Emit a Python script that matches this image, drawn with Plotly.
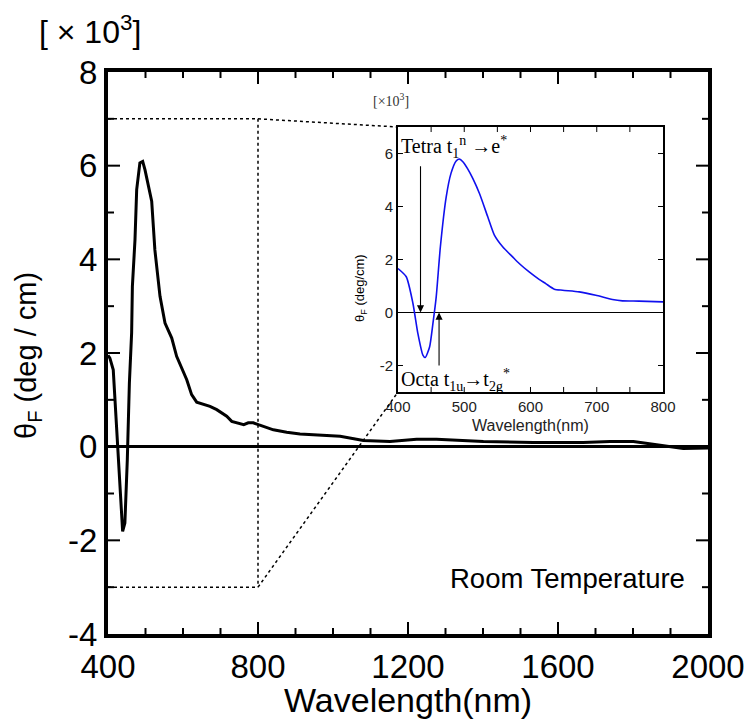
import plotly.graph_objects as go

# ---------------- data (values in units of 10^3 deg/cm) ----------------
main_wl = [400, 405, 414, 427.5, 432, 439, 445, 451.5, 457, 463, 465, 472, 476.5, 485, 492.5,
           498.7, 516.5, 525, 538.7, 552, 570, 583, 610, 623, 636.5, 672, 690, 716.5, 730,
           752, 762, 774, 787.5, 801, 841, 876.5, 912, 1019, 1081, 1152, 1223, 1276, 1401,
           1534, 1667, 1739, 1801, 1863, 1934, 2000]
main_theta = [1.95, 1.89, 1.64, -0.28, -0.98, -1.81, -1.63, -0.28, 1.36, 2.43, 3.42, 4.42, 5.49,
              6.06, 6.09, 5.91, 5.24, 4.20, 3.21, 2.64, 2.32, 1.93, 1.43, 1.11, 0.95, 0.86, 0.79,
              0.65, 0.54, 0.49, 0.47, 0.51, 0.51, 0.47, 0.36, 0.31, 0.27, 0.22, 0.13, 0.11, 0.16,
              0.16, 0.11, 0.09, 0.09, 0.11, 0.11, 0.04, -0.04, -0.03]

inset_wl = [400, 412.5, 422.6, 430, 437.6, 441, 447.7, 452.7, 457.7, 464, 472.8, 480, 487.8,
            492.8, 497.9, 505, 512.9, 523, 535.5, 545.5, 558, 573, 583, 598, 613, 623, 636,
            648.4, 673.5, 698.6, 723.7, 738.8, 763.9, 800]
inset_theta = [1.66, 1.35, 0.34, -0.79, -1.61, -1.70, -1.30, -0.42, 0.59, 2.48, 4.36, 5.25, 5.72,
               5.79, 5.69, 5.43, 5.06, 4.49, 3.61, 2.92, 2.48, 2.10, 1.85, 1.53, 1.25, 1.09, 0.88,
               0.84, 0.78, 0.65, 0.49, 0.44, 0.43, 0.40]

main_xticks = [400, 800, 1200, 1600, 2000]
main_xminor = [500, 600, 700, 900, 1000, 1100, 1300, 1400, 1500, 1700, 1800, 1900]
main_yticks = [-4, -2, 0, 2, 4, 6, 8]
main_yminor = [-3, -1, 1, 3, 5, 7]
inset_xticks = [400, 500, 600, 700, 800]
inset_xminor = [450, 550, 650, 750]
inset_yticks = [-2, 0, 2, 4, 6]

zoom_box_x = [400, 800]     # region magnified in inset
zoom_box_y = [-3, 7]
tetra_arrow = [434, 5.58]   # x, tail y
octa_arrow = [462, -2.06]

# ---------------- layout geometry ----------------
W, H = 748, 720
L, R, T, B = 108, 40, 72, 86
PW, PH = W - L - R, H - T - B
main_xr, main_yr = [400, 2000], [-4, 8]
ins_xr, ins_yr = [400, 800], [-3, 7]
ins_xd = [0.4833, 0.925]
ins_yd = [0.4306, 0.9021]

SANS = "Liberation Sans, Arial, sans-serif"
SERIF = "Liberation Serif, Times New Roman, serif"


def px2paper(px, py):
    return (px - L) / PW, (H - B - py) / PH


def main_to_paper(x, y):
    return ((x - main_xr[0]) / (main_xr[1] - main_xr[0]),
            (y - main_yr[0]) / (main_yr[1] - main_yr[0]))


def inset_to_paper(x, y):
    px = ins_xd[0] + (x - ins_xr[0]) / (ins_xr[1] - ins_xr[0]) * (ins_xd[1] - ins_xd[0])
    py = ins_yd[0] + (y - ins_yr[0]) / (ins_yr[1] - ins_yr[0]) * (ins_yd[1] - ins_yd[0])
    return px, py


def tick_path(xr, yr, wpx, hpx, xt_major, xt_minor, yt_major, yt_minor, lmaj, lmin):
    """Inside, mirrored tick marks as a single polyline (None-separated)."""
    dx = (xr[1] - xr[0]) / wpx   # data units per pixel
    dy = (yr[1] - yr[0]) / hpx
    xs, ys = [], []
    for vals, ln in ((xt_major, lmaj), (xt_minor, lmin)):
        for v in vals:
            xs += [v, v, None, v, v, None]
            ys += [yr[0], yr[0] + ln * dy, None, yr[1], yr[1] - ln * dy, None]
    for vals, ln in ((yt_major, lmaj), (yt_minor, lmin)):
        for v in vals:
            xs += [xr[0], xr[0] + ln * dx, None, xr[1], xr[1] - ln * dx, None]
            ys += [v, v, None, v, v, None]
    return xs, ys


fig = go.Figure()
fig.add_trace(go.Scatter(x=main_wl, y=main_theta, mode="lines",
                         line=dict(color="black", width=3), xaxis="x", yaxis="y",
                         showlegend=False, hoverinfo="skip"))
mx, my = tick_path(main_xr, main_yr, PW, PH, main_xticks[1:-1], main_xminor,
                   main_yticks[1:-1], main_yminor, 12, 6)
fig.add_trace(go.Scatter(x=mx, y=my, mode="lines", line=dict(color="black", width=2),
                         xaxis="x", yaxis="y", showlegend=False, hoverinfo="skip",
                         connectgaps=False))
fig.add_trace(go.Scatter(x=inset_wl, y=inset_theta, mode="lines",
                         line=dict(color="#1010ee", width=1.6, shape="spline", smoothing=0.6),
                         xaxis="x2", yaxis="y2", showlegend=False, hoverinfo="skip"))
ix, iy = tick_path(ins_xr, ins_yr, PW * (ins_xd[1] - ins_xd[0]), PH * (ins_yd[1] - ins_yd[0]),
                   inset_xticks[1:-1] + inset_xminor, [], inset_yticks, [], 5, 5)
fig.add_trace(go.Scatter(x=ix, y=iy, mode="lines", line=dict(color="black", width=1),
                         xaxis="x2", yaxis="y2", showlegend=False, hoverinfo="skip",
                         connectgaps=False))

shapes = []
dot = dict(color="black", width=1.5, dash="dot")
shapes.append(dict(type="line", xref="x", yref="y", x0=zoom_box_x[0], y0=zoom_box_y[1],
                   x1=zoom_box_x[1], y1=zoom_box_y[1], line=dot))
shapes.append(dict(type="line", xref="x", yref="y", x0=zoom_box_x[1], y0=zoom_box_y[1],
                   x1=zoom_box_x[1], y1=zoom_box_y[0], line=dot))
shapes.append(dict(type="line", xref="x", yref="y", x0=zoom_box_x[0], y0=zoom_box_y[0],
                   x1=zoom_box_x[1], y1=zoom_box_y[0], line=dot))
for yy in zoom_box_y:
    p0 = main_to_paper(zoom_box_x[1], yy)
    p1 = inset_to_paper(ins_xr[0], yy)
    shapes.append(dict(type="line", xref="paper", yref="paper", x0=p0[0], y0=p0[1],
                       x1=p1[0], y1=p1[1], line=dot))


def ann(text, px, py, size, family=SANS, color="black", angle=0, xanchor="center"):
    x, y = px2paper(px, py)
    return dict(text=text, xref="paper", yref="paper", x=x, y=y, xanchor=xanchor,
                yanchor="middle", showarrow=False, textangle=angle,
                font=dict(family=family, size=size, color=color))


annotations = [
    ann("[ × 10<sup>3</sup>]", 90, 30, 32),
    ann("θ<sub>F</sub> (deg / cm)", 28, 356, 29, angle=-90),
    ann("Wavelength(nm)", 408, 700, 34),
    ann("Room Temperature", 687, 578, 27.5, xanchor="right"),
    ann("[×10<sup>3</sup>]", 391, 100, 14, family=SERIF, color="#333"),
    ann("θ<sub>F</sub> (deg/cm)", 360, 288, 13, angle=-90),
    ann("Wavelength(nm)", 530, 425, 16, color="#222"),
    dict(text="Tetra t<sub>1</sub><sup>n</sup> →e<sup>*</sup>", xref="x2", yref="y2",
         x=402, y=6.25, xanchor="left", yanchor="middle", showarrow=False,
         font=dict(family=SERIF, size=20, color="black")),
    dict(text="Octa t<sub>1u</sub>→t<sub>2g</sub><sup>*</sup>", xref="x2", yref="y2",
         x=402, y=-2.55, xanchor="left", yanchor="middle", showarrow=False,
         font=dict(family=SERIF, size=20, color="black")),
    dict(x=tetra_arrow[0], y=0, ax=tetra_arrow[0], ay=tetra_arrow[1], xref="x2", yref="y2",
         axref="x2", ayref="y2", text="", showarrow=True, arrowhead=2, arrowsize=1.3,
         arrowwidth=1.1, arrowcolor="black"),
    dict(x=octa_arrow[0], y=0, ax=octa_arrow[0], ay=octa_arrow[1], xref="x2", yref="y2",
         axref="x2", ayref="y2", text="", showarrow=True, arrowhead=2, arrowsize=1.3,
         arrowwidth=1.1, arrowcolor="black"),
]

major = dict(ticks="", showline=True, linewidth=4, linecolor="black", mirror=True,
             showgrid=False)
inset = dict(ticks="", showline=True, linewidth=1.6, linecolor="black", mirror=True,
             showgrid=False, tickfont=dict(family=SANS, size=15, color="#222"))

fig.update_layout(
    template="none",
    width=W, height=H, margin=dict(l=L, r=R, t=T, b=B, pad=0),
    paper_bgcolor="white", plot_bgcolor="rgba(0,0,0,0)",
    font=dict(family=SANS, color="black"),
    xaxis=dict(range=main_xr, tickmode="array", tickvals=main_xticks,
               ticktext=[str(v) for v in main_xticks], zeroline=False,
               tickfont=dict(family=SANS, size=33), domain=[0, 1], anchor="y", **major),
    yaxis=dict(range=main_yr, tickmode="array", tickvals=main_yticks,
               ticktext=[str(v) for v in main_yticks], zeroline=True, zerolinecolor="black",
               zerolinewidth=2.5, tickfont=dict(family=SANS, size=33), domain=[0, 1],
               anchor="x", **major),
    xaxis2=dict(range=ins_xr, tickmode="array", tickvals=inset_xticks,
                ticktext=[str(v) for v in inset_xticks],
                zeroline=False, domain=ins_xd, anchor="y2", **inset),
    yaxis2=dict(range=ins_yr, tickmode="array", tickvals=inset_yticks,
                ticktext=[str(v) for v in inset_yticks], zeroline=True, zerolinecolor="black",
                zerolinewidth=1.3, domain=ins_yd, anchor="x2", **inset),
    shapes=shapes, annotations=annotations,
)

fig.write_html("out.html")
